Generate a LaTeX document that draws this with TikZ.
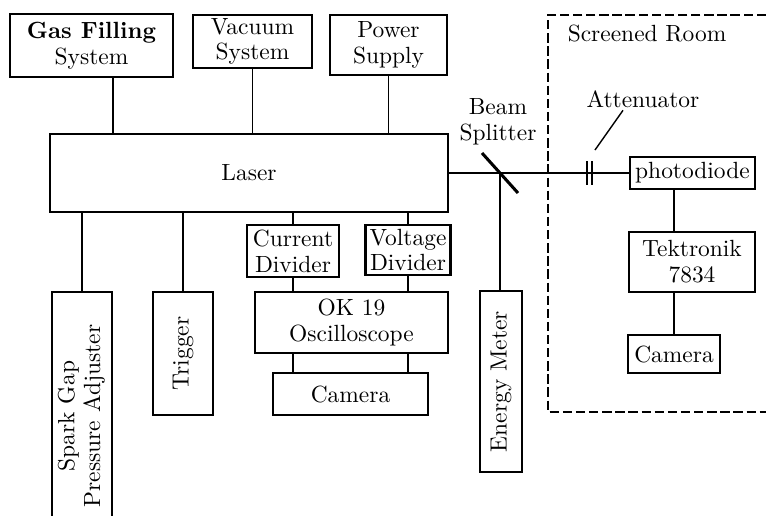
\documentclass[tikz,border=0pt]{standalone}
\usetikzlibrary{positioning}
\tikzset{
  box/.style={draw, line width=1pt, align=center, inner sep=1pt, font=\fontsize{10}{11}\selectfont},
  link/.style={line width=0.6pt},
  beam/.style={line width=0.7pt},
  wall/.style={line width=0.9pt, dash pattern=on 4pt off 1.6pt},
  lab/.style={font=\fontsize{10}{11}\selectfont, align=center, inner sep=1pt},
}
\begin{document}
\begin{tikzpicture}[x=0.015cm, y=-0.015cm]
\useasboundingbox (0,0) rectangle (766,515);
\clip (0,0) rectangle (766,515);
% supplies on top
\node[box, minimum width=2.45cm, minimum height=0.95cm] (gas) at (91.5,45.5) {\textbf{Gas Filling}\\System};
\node[box, minimum width=1.79cm, minimum height=0.8cm] (vac) at (252.5,41.5) {Vacuum\\System};
\node[box, minimum width=1.76cm, minimum height=0.9cm] (pow) at (388.5,45) {Power\\Supply};
\node[box, minimum width=5.97cm, minimum height=1.17cm] (laser) at (249,173) {Laser};
% below the laser
\node[box, minimum width=0.9cm, minimum height=3.72cm] (spark) at (82,416) {\rotatebox{90}{\begin{tabular}{@{}c@{}}Spark Gap\\Pressure Adjuster\end{tabular}}};
\node[box, minimum width=0.9cm, minimum height=1.85cm] (trig) at (183,353.5) {\rotatebox{90}{Trigger}};
\node[box, minimum width=1.38cm, minimum height=0.78cm] (cur) at (293,251) {Current\\Divider};
\node[box, minimum width=1.27cm, minimum height=0.75cm] (volt) at (408,250) {Voltage\\Divider};
\node[box, minimum width=2.9cm, minimum height=0.92cm] (osc) at (351.5,322.5) {OK 19\\Oscilloscope};
\node[box, minimum width=2.33cm, minimum height=0.63cm] (camone) at (350.5,394) {Camera};
\node[box, minimum width=0.63cm, minimum height=2.72cm] (energy) at (501,381.5) {\rotatebox{90}{Energy Meter}};
% screened room
\node[box, minimum width=1.88cm, minimum height=0.48cm] (photo) at (692.5,173) {photodiode};
\node[box, minimum width=1.89cm, minimum height=0.9cm] (tek) at (692,262) {Tektronik\\7834};
\node[box, minimum width=1.38cm, minimum height=0.57cm] (camtwo) at (674,354) {Camera};
\draw[wall] (766,15) -- (548,15) -- (548,412) -- (766,412);
\node[lab, anchor=west] (room) at (565,33) {Screened Room};

\draw[link] ([xshift=3.2mm]gas.south) -- ([xshift=3.2mm]gas.south |- laser.north);
\draw[link] (vac.south) -- (vac.south |- laser.north);
\draw[link] (pow.south) -- (pow.south |- laser.north);
\draw[link] (laser.south -| spark.north) -- (spark.north);
\draw[link] (laser.south -| trig.north) -- (trig.north);
\draw[link] (laser.south -| cur.north) -- (cur.north);
\draw[link] (laser.south -| volt.north) -- (volt.north);
\draw[link] (cur.south) -- (cur.south |- osc.north);
\draw[link] (volt.south) -- (volt.south |- osc.north);
\draw[link] (osc.south -| cur.south) -- (camone.north -| cur.south);
\draw[link] (osc.south -| volt.south) -- (camone.north -| volt.south);

% beam path
\coordinate (bs) at (500,173);
\coordinate (att) at (589.5,173);
\draw[beam] (laser.east) -- (photo.west);
\draw[line width=1.3pt] (bs) ++(-18,-20) -- ++(36,40);
\node[lab] (bslab) at (498,122) {Beam\\Splitter};
\draw[link] (bs) -- (bs |- energy.north);
\draw[line width=0.8pt] (att) ++(-2.5,-12) -- ++(0,24);
\draw[line width=0.8pt] (att) ++(2.5,-12) -- ++(0,24);
\node[lab] (attlab) at (643,99) {Attenuator};
\coordinate (attl) at (595,150);
\draw[link] ([xshift=-3mm]attlab.south) -- (attl);
\draw[link] (photo.south -| camtwo.north) -- (tek.north -| camtwo.north);
\draw[link] (tek.south -| camtwo.north) -- (camtwo.north);
\end{tikzpicture}
\end{document}
